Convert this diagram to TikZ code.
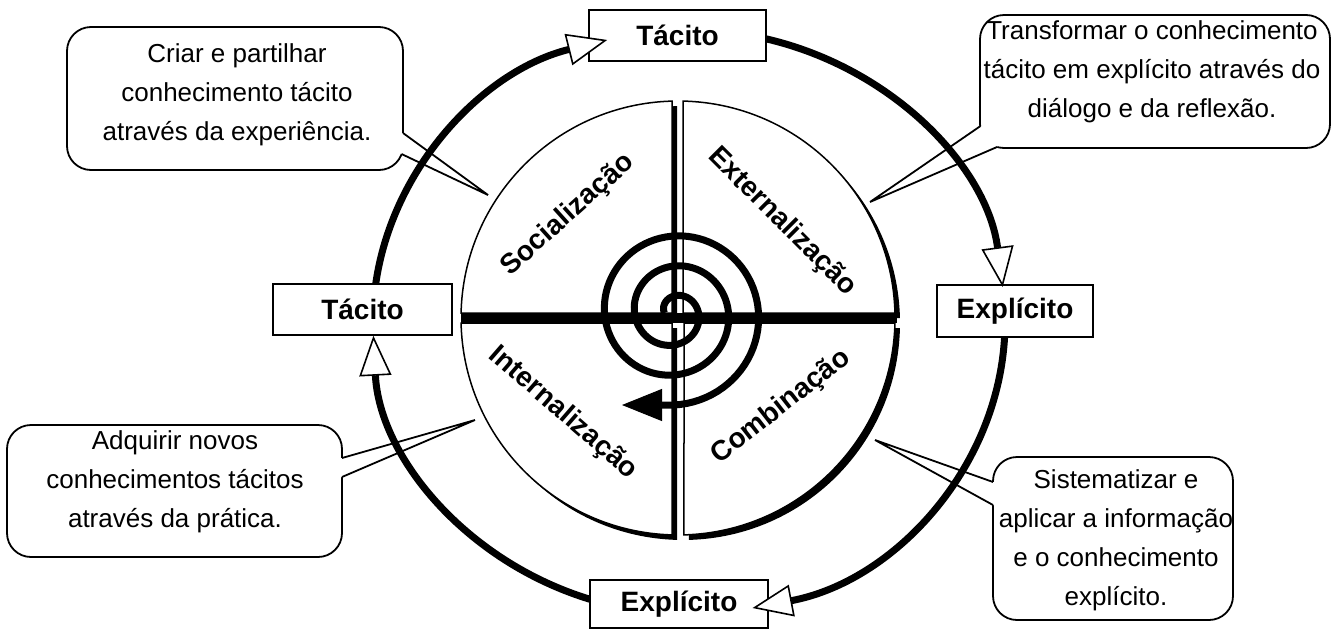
\documentclass[tikz,border=0pt]{standalone}
\usepackage{fontspec}
\setmainfont{Liberation Sans}
\usetikzlibrary{calc, arrows.meta}

\begin{document}
\begin{tikzpicture}[x=0.5pt, y=0.5pt]

    \tikzstyle{modo}=[draw=black, line width=1pt, fill=white, inner sep=0pt, font=\fontsize{14}{16}\selectfont\bfseries];
    \tikzstyle{balao}=[draw=black, line width=0.9pt, fill=white, rounded corners=12pt];
    \tikzstyle{texto}=[align=center, inner sep=0pt, font=\fontsize{13}{19.5}\selectfont];
    \tikzstyle{fase}=[font=\fontsize{14}{16}\selectfont\bfseries];
    \tikzstyle{ciclo}=[line width=3.5pt, -{Triangle[fill=white, length=20pt, width=16pt, line width=0.8pt]}];

    \useasboundingbox (0,0) rectangle (1337,629);

    \coordinate (O) at (678,311);
    \coordinate (E) at (689,307);

    \begin{scope}[shift={(683,306)}]
        \foreach \xa/\ya/\ai/\af in {-6/5/91.58/178.68, 5/5/88.68/1.32, -6/-5/181.32/268.42, 6/-5/-88.42/-1.32}
            \fill (\xa,\ya) -- (\ai:217) arc[start angle=\ai, end angle=\af, radius=217] -- cycle;
    \end{scope}
    \begin{scope}[shift={(678,311)}]
        \foreach \xa/\ya/\ai/\af in {-6/5/91.58/178.68, 5/5/88.68/1.32, -6/-5/181.32/268.42, 6/-5/-88.42/-1.32}
            \filldraw[fill=white, line width=0.75pt] (\xa,\ya) -- (\ai:217) arc[start angle=\ai, end angle=\af, radius=217] -- cycle;
    \end{scope}
    \fill (461,306) rectangle (897,316);

    \node[balao, minimum width=168pt, minimum height=71.5pt] (c1) at (235,530.5) {};
    \node[texto] (t1) at ($(c1)+(2,3.5)$) {Criar e partilhar\\conhecimento tácito\\através da experiência.};
    \coordinate (c1a) at (403,496);
    \coordinate (c1b) at (401.5,475);
    \coordinate (c1p) at (488,434);
    \fill[white] ($(c1a)+(-4,0)$) -- (c1a) -- (c1p) -- (c1b) -- ($(c1b)+(-4,2)$) -- cycle;
    \draw[line width=0.9pt] (c1a) -- (c1p) -- (c1b);

    \node[balao, minimum width=175pt, minimum height=66.5pt] (c2) at (1155,547.5) {};
    \node[texto] (t2) at ($(c2)+(-3,9.5)$) {Transformar o conhecimento\\tácito em explícito através do\\diálogo e da reflexão.};
    \coordinate (c2a) at (980.5,503);
    \coordinate (c2b) at (997,482);
    \coordinate (c2p) at (870,427);
    \fill[white] ($(c2a)+(4,0)$) -- (c2a) -- (c2p) -- (c2b) -- ($(c2b)+(2,4)$) -- cycle;
    \draw[line width=0.9pt] (c2a) -- (c2p) -- (c2b);

    \node[balao, minimum width=167.5pt, minimum height=66pt] (c3) at (174.5,138) {};
    \node[texto] (t3) at ($(c3)+(0.5,9)$) {Adquirir novos\\conhecimentos tácitos\\através da prática.};
    \coordinate (c3a) at (342,171);
    \coordinate (c3b) at (342,152);
    \coordinate (c3p) at (475,209);
    \fill[white] ($(c3a)+(-4,0)$) -- (c3a) -- (c3p) -- (c3b) -- ($(c3b)+(-4,0)$) -- cycle;
    \draw[line width=0.9pt] (c3a) -- (c3p) -- (c3b);

    \node[balao, minimum width=120pt, minimum height=81.5pt] (c4) at (1113,90.5) {};
    \node[texto] (t4) at ($(c4)+(3,-1.5)$) {Sistematizar e\\aplicar a informação\\e o conhecimento\\explícito.};
    \coordinate (c4a) at (993,147);
    \coordinate (c4b) at (993,124);
    \coordinate (c4p) at (875,189);
    \fill[white] ($(c4a)+(4,0)$) -- (c4a) -- (c4p) -- (c4b) -- ($(c4b)+(4,0)$) -- cycle;
    \draw[line width=0.9pt] (c4a) -- (c4p) -- (c4b);

    \node[modo, minimum width=88.5pt, minimum height=25.5pt] (tacA) at (677.5,593.5) {Tácito};
    \node[modo, minimum width=89.5pt, minimum height=25.5pt] (tacB) at (362.5,319.5) {Tácito};
    \node[modo, minimum width=78pt, minimum height=26pt] (expA) at (1015,318) {Explícito};
    \node[modo, minimum width=89pt, minimum height=24pt] (expB) at (679,25) {Explícito};

    \draw[ciclo] ($(E)+(172.5:316 and 292)$) arc[start angle=172.5, end angle=105, x radius=316, y radius=292];
    \draw[ciclo] ($(E)+(75.9:316 and 292)$) arc[start angle=75.9, end angle=6.9, x radius=316, y radius=292];
    \draw[ciclo] ($(E)+(-2.9:316 and 292)$) arc[start angle=-2.9, end angle=-78.4, x radius=316, y radius=292];
    \draw[ciclo] ($(E)+(-108.3:316 and 292)$) arc[start angle=-108.3, end angle=-177.3, x radius=316, y radius=292];

    \draw[line width=3.5pt, line join=round, -{Triangle[length=20pt, width=16pt, line width=0.5pt]}]
        plot[domain=0:990, samples=240] ({674+(9.5+\x/12)*cos(180-\x)}, {316+(9.5+\x/12)*sin(180-\x)}) -- (622,224);

    \node[fase, rotate=42] (soc) at ($(O)+(-110,103)$) {Socialização};
    \node[fase, rotate=-45] (ext) at ($(O)+(104,96)$) {Externalização};
    \node[fase, rotate=-41] (int) at ($(O)+(-115,-95)$) {Internalização};
    \node[fase, rotate=38] (comb) at ($(O)+(103,-89)$) {Combinação};

\end{tikzpicture}
\end{document}
